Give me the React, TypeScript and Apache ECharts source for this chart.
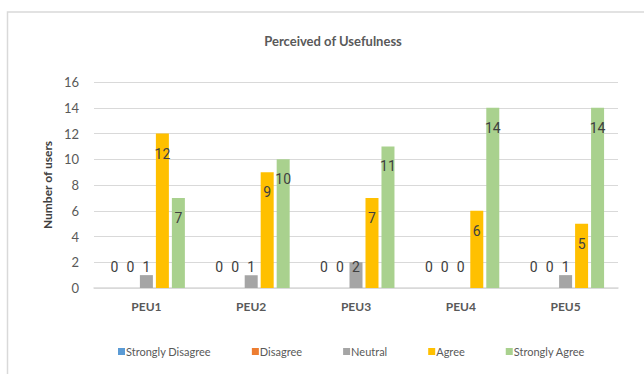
import React, { useEffect, useRef } from "react";
import * as echarts from "echarts";

const categories = ["PEU1", "PEU2", "PEU3", "PEU4", "PEU5"];
const seriesNames = ["Strongly Disagree", "Disagree", "Neutral", "Agree", "Strongly Agree"];
const stronglyDisagree = [0, 0, 0, 0, 0];
const disagree = [0, 0, 0, 0, 0];
const neutral = [1, 1, 2, 0, 1];
const agree = [12, 9, 7, 6, 5];
const stronglyAgree = [7, 10, 11, 14, 14];
const colors = ["#5B9BD5", "#ED7D31", "#A5A5A5", "#FFC000", "#A9D18E"];
const yTicks = { min: 0, max: 16, interval: 2 };

const FONT = "Lato, 'Open Sans', sans-serif";

function toItems(values: number[]) {
  return values.map((v) => ({
    value: v,
    label:
      v <= 3
        ? { position: "insideBottom", distance: 14 }
        : { position: "insideTop", distance: 13 },
  }));
}

export default function App() {
  const ref = useRef<HTMLDivElement>(null);
  useEffect(() => {
    if (!ref.current) return;
    const chart = echarts.init(ref.current, null, { renderer: "svg" });
    const allSeries = [stronglyDisagree, disagree, neutral, agree, stronglyAgree];
    chart.setOption({
      animation: false,
      backgroundColor: "#ffffff",
      color: colors,
      title: {
        text: "Perceived of Usefulness",
        left: 328,
        textAlign: "center",
        top: 29,
        textStyle: { fontFamily: FONT, fontSize: 13, fontWeight: "bold", color: "#595959" },
      },
      graphic: [
        {
          type: "rect",
          shape: { x: 7.5, y: 12, width: 700, height: 400 },
          style: { fill: "none", stroke: "#D9D9D9", lineWidth: 1.5 },
          silent: true,
        },
      ],
      legend: {
        top: 341,
        left: 113,
        itemWidth: 7,
        itemHeight: 7,
        itemGap: 41,
        icon: "rect",
        data: seriesNames,
        textStyle: { fontFamily: FONT, fontSize: 11, color: "#595959", padding: [0, 0, 0, -4] },
      },
      grid: { left: 94, right: 26, top: 82, bottom: 86, containLabel: false },
      xAxis: {
        type: "category",
        data: categories,
        axisLine: { lineStyle: { color: "#D9D9D9", width: 1.5 } },
        axisTick: { show: false },
        axisLabel: { fontFamily: FONT, fontSize: 12, fontWeight: "bold", color: "#595959", margin: 12 },
      },
      yAxis: {
        type: "value",
        min: yTicks.min,
        max: yTicks.max,
        interval: yTicks.interval,
        name: "Number of users",
        nameLocation: "middle",
        nameGap: 40,
        nameTextStyle: { fontFamily: FONT, fontSize: 12, fontWeight: "bold", color: "#404040" },
        axisLine: { show: false },
        axisTick: { show: false },
        axisLabel: { fontFamily: FONT, fontSize: 13, color: "#595959", margin: 15 },
        splitLine: { lineStyle: { color: "#D9D9D9", width: 1 } },
      },
      series: allSeries.map((vals, i) => ({
        name: seriesNames[i],
        type: "bar",
        data: toItems(vals),
        barWidth: 13,
        barGap: "23%",
        label: {
          show: true,
          fontFamily: "Roboto, sans-serif",
          fontSize: 14,
          color: "#404040",
        },
      })),
    });
    return () => chart.dispose();
  }, []);
  return (
    <div
      ref={ref}
      style={{ position: "fixed", left: 0, top: 0, width: 644, height: 374 }}
    />
  );
}
